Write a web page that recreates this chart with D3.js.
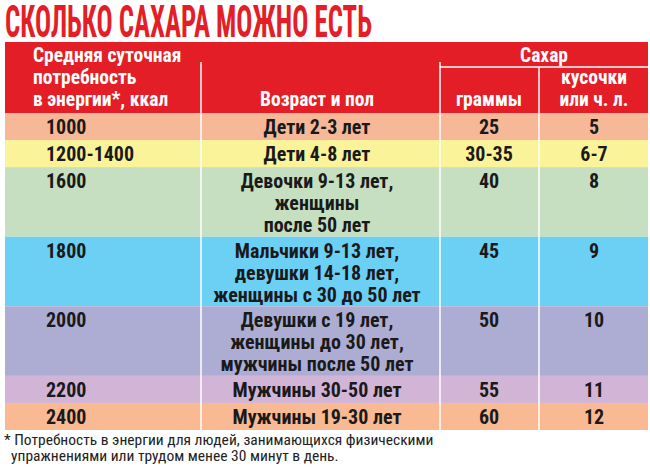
<!DOCTYPE html>
<html><head><meta charset="utf-8">
<script src="https://cdn.jsdelivr.net/npm/d3@7"></script>
<style>body{margin:0;background:#fff}svg{display:block}text{font-family:"Liberation Sans Narrow","Roboto Condensed",Arial,sans-serif;font-weight:bold}</style>
</head><body><svg id="c" width="650" height="473"></svg>
<script>
var title = "СКОЛЬКО САХАРА МОЖНО ЕСТЬ";
var energy = ["1000", "1200-1400", "1600", "1800", "2000", "2200", "2400"];
var groups = [["Дети 2-3 лет"], ["Дети 4-8 лет"],
  ["Девочки 9-13 лет,", "женщины", "после 50 лет"],
  ["Мальчики 9-13 лет,", "девушки 14-18 лет,", "женщины с 30 до 50 лет"],
  ["Девушки с 19 лет,", "женщины до 30 лет,", "мужчины после 50 лет"],
  ["Мужчины 30-50 лет"], ["Мужчины 19-30 лет"]];
var grams = ["25", "30-35", "40", "45", "50", "55", "60"];
var pieces = ["5", "6-7", "8", "9", "10", "11", "12"];
var rowColors = ["#f7b898", "#fbf399", "#c5dfc0", "#6ccff4", "#adadd4", "#d1b4d6", "#f9b993"];
var footnote = ["* Потребность в энергии для людей, занимающихся физическими", "  упражнениями или трудом менее 30 минут в день."];

var svg = d3.select("#c");
var red = "#e41e26";
var cols = [5, 201, 440, 539, 648];

// rows: height by number of lines
var units = groups.map(function(g) { return g.length * 22 + 6; });
var cum = [0]; units.forEach(function(u, i) { cum.push(cum[i] + u); });
var y = d3.scaleLinear().domain([0, cum[cum.length - 1]]).range([113, 430]);

svg.append("text").attr("x", 5).attr("y", 37).attr("fill", red)
  .attr("font-size", 44).attr("textLength", 367).attr("lengthAdjust", "spacingAndGlyphs")
  .text(title);

svg.append("rect").attr("x", 5).attr("y", 42).attr("width", 643).attr("height", 71).attr("fill", red);

var rows = svg.selectAll("g.row").data(energy).join("g").attr("class", "row");
rows.append("rect").attr("x", 5).attr("width", 643)
  .attr("y", function(d, i) { return y(cum[i]); })
  .attr("height", function(d, i) { return y(cum[i + 1]) - y(cum[i]); })
  .attr("fill", function(d, i) { return rowColors[i]; });

[1, 2, 3].forEach(function(k) {
  svg.append("line").attr("x1", cols[k]).attr("x2", cols[k])
    .attr("y1", k === 3 ? 67 : 62).attr("y2", 430).attr("stroke", "#fff").attr("stroke-width", 1.5);
});
svg.append("line").attr("x1", 440).attr("x2", 648).attr("y1", 67).attr("y2", 67).attr("stroke", "#fff").attr("stroke-width", 1.5);

function hdr(t, xx, yy, anchor) {
  svg.append("text").attr("x", xx).attr("y", yy).attr("fill", "#fff").attr("font-size", 19.5)
    .attr("text-anchor", anchor || "middle").text(t);
}
hdr("Средняя суточная", 33, 62, "start");
hdr("потребность", 33, 84, "start");
hdr("в энергии*, ккал", 33, 106, "start");
hdr("Возраст и пол", 317, 106);
hdr("Сахар", 544, 62);
hdr("граммы", 489, 106);
hdr("кусочки", 594, 84);
hdr("или ч. л.", 594, 106);

function cell(arr, xx, anchor) {
  rows.each(function(d, i) {
    var lines = Array.isArray(arr[i]) ? arr[i] : [arr[i]];
    var g = d3.select(this);
    lines.forEach(function(t, j) {
      g.append("text").attr("x", xx).attr("y", y(cum[i]) + 21 + j * 22)
        .attr("font-size", 20).attr("fill", "#1a1a1a").attr("text-anchor", anchor).text(t);
    });
  });
}
cell(energy, 46, "start");
cell(groups, 317, "middle");
cell(grams, 489, "middle");
cell(pieces, 594, "middle");

footnote.forEach(function(t, j) {
  svg.append("text").attr("x", 4).attr("y", 445 + j * 16).attr("font-size", 15.5)
    .style("font-weight", "normal").attr("fill", "#222")
    .style("white-space", "pre").text(t);
});
</script></body></html>
